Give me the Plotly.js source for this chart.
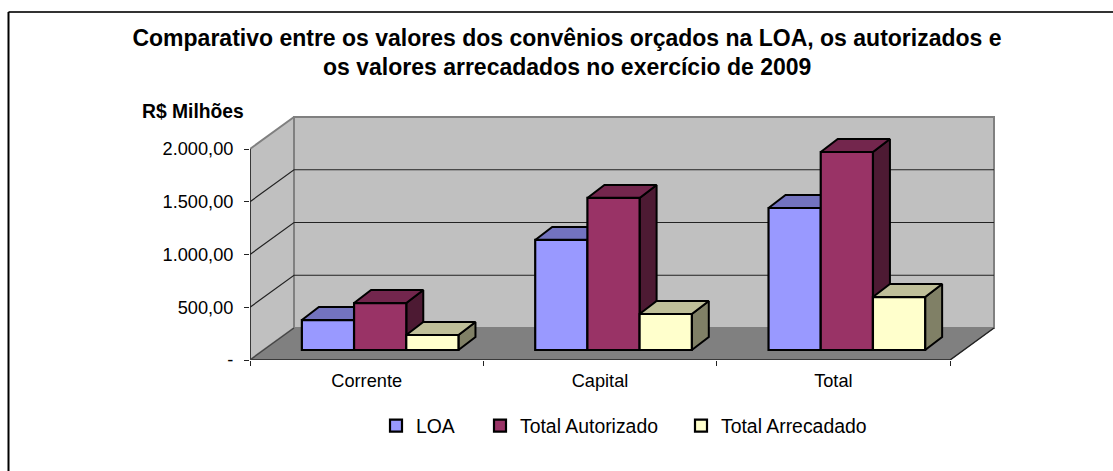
<!DOCTYPE html>
<html><head><meta charset="utf-8">
<script src="https://cdn.plot.ly/plotly-3.0.1.min.js"></script>
<style>html,body{margin:0;padding:0;background:#fff}</style>
</head><body><div id="chart" style="width:1113px;height:471px"></div>
<script>
const categories = ['Corrente', 'Capital', 'Total'];
const seriesNames = ['LOA', 'Total Autorizado', 'Total Arrecadado'];
const loa = [284, 1043, 1346];
const autorizado = [445, 1441, 1877];
const arrecadado = [142, 341, 502];
const yTicks = [0, 500, 1000, 1500, 2000];
const yTickLabels = ['-', '500,00', '1.000,00', '1.500,00', '2.000,00'];
const titleLine1 = 'Comparativo entre os valores dos convênios orçados na LOA, os autorizados e';
const titleLine2 = 'os valores arrecadados no exercício de 2009';

const W = 1113, H = 471;
const ml = 250, mr = 107, mt = 105, mb = 111;
const pxPerCat = 700 / 3, pxPerVal = 211 / 2000;
const xMax = (W - mr - ml) / pxPerCat, yMax = (H - mb - mt) / pxPerVal;
const px = p => p / pxPerCat, pv = p => p / pxPerVal;
const paperX = p => (p - ml) / (W - ml - mr), paperY = p => (H - mb - p) / (H - mt - mb);

// 3D geometry expressed in axis units
const wallDX = px(44), wallDY = pv(32);
const barShiftX = px(13.5), barBase = pv(10);
const barDX = px(17), barDY = pv(13);
const barW = px(52.2);
const backRight = 3 + wallDX;

const values = [loa, autorizado, arrecadado];
const front = ['#9999FF', '#993366', '#FFFFCC'];
const top_ = ['#7373BF', '#73264D', '#BFBF99'];
const side = ['#4D4D80', '#4D1A33', '#808066'];

const poly = (pts, color, line, z, width) => ({
  type: 'scatter', mode: 'lines', x: pts.map(p => p && p[0]), y: pts.map(p => p && p[1]),
  fill: color ? 'toself' : 'none', fillcolor: color, line: {color: line, width: width},
  showlegend: false, hoverinfo: 'skip', cliponaxis: false, zorder: z
});

const traces = [];
// floor + walls
traces.push(poly([[0,0],[wallDX,wallDY],[backRight,wallDY],[3,0],[0,0]], '#808080', '#808080', 0, 1));
traces.push(poly([[0,0],[wallDX,wallDY],[wallDX,2000+wallDY],[0,2000],[0,0]], '#C0C0C0', '#808080', 0, 2));
traces.push(poly([[wallDX,wallDY],[backRight,wallDY],[backRight,2000+wallDY],[wallDX,2000+wallDY],[wallDX,wallDY]], '#C0C0C0', '#808080', 0, 2));
// gridlines
const grid = [];
yTicks.slice(1, -1).forEach(v => { grid.push([0,v],[wallDX,v+wallDY],[backRight,v+wallDY],null); });
traces.push(poly(grid, null, '#222222', 0, 1.2));
// axes and floor edges
traces.push(poly([[0,0],[0,2000]], null, '#222222', 0, 1.5));
traces.push(poly([[0,0],[3,0],[backRight,wallDY]], null, '#222222', 0, 1.5));
traces.push(poly([[0,0],[wallDX,wallDY]], null, '#444444', 0, 1.2));

// bars: each series = side & top polygons, then a real bar trace in front
seriesNames.forEach((name, j) => {
  const xs = categories.map((c, i) => i + 0.5 + barShiftX + (j - 1) * barW);
  const tops = [], sides = [];
  xs.forEach((xc, i) => {
    const l = xc - barW / 2, r = xc + barW / 2, b = barBase, t = barBase + values[j][i];
    tops.push([l,t],[l+barDX,t+barDY],[r+barDX,t+barDY],[r,t],[l,t],null);
    sides.push([r,b],[r+barDX,b+barDY],[r+barDX,t+barDY],[r,t],[r,b],null);
  });
  traces.push(poly(sides, side[j], '#000000', 2*j+1, 2));
  traces.push(poly(tops, top_[j], '#000000', 2*j+1, 2));
  traces.push({
    type: 'bar', name: name, x: xs, y: values[j], base: barBase, width: barW,
    marker: {color: front[j], line: {color: '#000000', width: 2.2}},
    hoverinfo: 'name+y', cliponaxis: false, zorder: 2*j+2,
    legend: j === 0 ? 'legend' : 'legend' + (j + 1), showlegend: true
  });
});

const family = '"Liberation Sans", Arial, sans-serif';
const tickFont = {family: family, size: 18.2, color: '#000000'};
const legendFont = {family: family, size: 19.4, color: '#000000'};
const titleFont = {family: family, size: 23, color: '#000000'};
const legendAt = x => ({xref: 'container', yref: 'container', x: x / W, y: 1 - 426 / H,
  xanchor: 'left', yanchor: 'middle', orientation: 'h', bgcolor: 'rgba(0,0,0,0)', font: legendFont, borderwidth: 0});

const layout = {
  width: W, height: H, margin: {l: ml, r: mr, t: mt, b: mb, pad: 0},
  paper_bgcolor: '#ffffff', plot_bgcolor: 'rgba(0,0,0,0)', font: tickFont,
  barmode: 'overlay', dragmode: false,
  title: {text: '<b>' + titleLine1 + '</b>', xref: 'container', yref: 'container', x: 567 / W, y: 1 - 38 / H,
    xanchor: 'center', yanchor: 'middle', font: titleFont},
  xaxis: {range: [0, xMax], tickmode: 'array', tickvals: categories.map((c, i) => i + 0.5), ticktext: categories,
    ticks: '', showgrid: false, zeroline: false, showline: false, fixedrange: true, ticklabelstandoff: 8,
    tickfont: tickFont,
    minor: {tickmode: 'array', tickvals: [0, 1, 2, 3], ticks: 'outside', ticklen: 5, tickwidth: 1.2, tickcolor: '#222', showgrid: false}},
  yaxis: {range: [0, yMax], tickmode: 'array', tickvals: yTicks, ticktext: yTickLabels,
    ticks: 'outside', ticklen: 5, tickwidth: 1.2, tickcolor: '#222', showgrid: false, zeroline: false,
    showline: false, fixedrange: true, ticklabelstandoff: 7, tickfont: tickFont},
  legend: legendAt(376), legend2: legendAt(480), legend3: legendAt(681),
  annotations: [
    {text: '<b>' + titleLine2 + '</b>', xref: 'paper', yref: 'paper', x: paperX(567), y: paperY(67),
      xanchor: 'center', yanchor: 'middle', showarrow: false, font: titleFont},
    {text: '<b>R$ Milhões</b>', xref: 'paper', yref: 'paper', x: paperX(193), y: paperY(111),
      xanchor: 'center', yanchor: 'middle', showarrow: false, font: {family: family, size: 19.3, color: '#000'}}
  ],
  shapes: [
    {type: 'line', xref: 'paper', yref: 'paper', x0: paperX(8.5), x1: paperX(W), y0: paperY(12), y1: paperY(12), line: {color: '#333', width: 2}},
    {type: 'line', xref: 'paper', yref: 'paper', x0: paperX(8.5), x1: paperX(8.5), y0: paperY(12), y1: paperY(H), line: {color: '#000', width: 2}}
  ]
};
Plotly.newPlot('chart', traces, layout, {displayModeBar: false, responsive: false});
</script></body></html>
